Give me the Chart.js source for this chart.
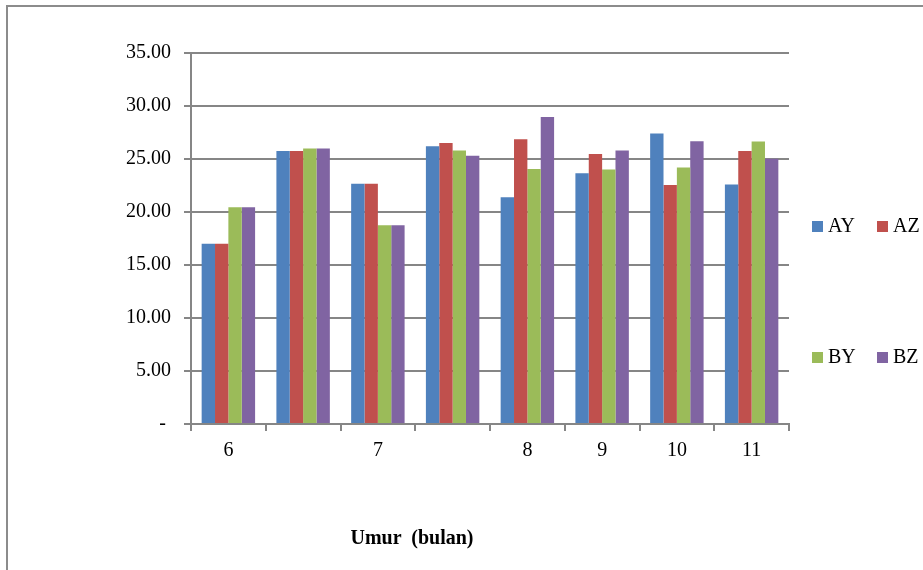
<!DOCTYPE html>
<html lang="id">
<head>
<meta charset="UTF-8">
<title>Umur (bulan)</title>
<script src="https://cdn.jsdelivr.net/npm/chart.js"></script>
<style>
  html, body { margin: 0; padding: 0; background: #fff; overflow: hidden; }
  #frame { position: absolute; left: 6px; top: 5px; width: 2000px; height: 2000px; border: 2px solid #8c8c8c; }
  #wrap { position: absolute; left: 0; top: 0; width: 923px; height: 570px; }
  #xtitle { position: absolute; left: 0; width: 824px; top: 526px; text-align: center;
            font: bold 20px "Liberation Serif", "Times New Roman", serif; color: #000; white-space: pre; }
</style>
</head>
<body>
<div id="frame"></div>
<div id="wrap"><canvas id="chart" width="923" height="570"></canvas></div>
<div id="xtitle">Umur  (bulan)</div>
<script>
// data
const categories = ['6', '', '7', '', '8', '9', '10', '11'];
const seriesNames = ['AY', 'AZ', 'BY', 'BZ'];
const AY = [17.0, 25.75, 22.67, 26.2, 21.4, 23.65, 27.4, 22.6];
const AZ = [17.0, 25.75, 22.67, 26.5, 26.86, 25.47, 22.55, 25.75];
const BY = [20.44, 26.0, 18.74, 25.8, 24.06, 24.0, 24.2, 26.64];
const BZ = [20.44, 26.0, 18.74, 25.3, 28.96, 25.8, 26.67, 25.03];
const colors = ['#4F81BD', '#C0504D', '#9BBB59', '#8064A2'];

const serif = '"Liberation Serif", "Times New Roman", serif';
const gridColor = '#868686';

// legend laid out in two rows at the right, like the original
const sideLegend = {
  id: 'sideLegend',
  afterDraw(chart) {
    const ctx = chart.ctx;
    const spots = [[812, 221], [877, 221], [812, 352], [877, 352]];
    ctx.save();
    ctx.font = '20px ' + serif;
    ctx.textBaseline = 'middle';
    chart.data.datasets.forEach((ds, i) => {
      const [x, y] = spots[i];
      ctx.fillStyle = ds.backgroundColor;
      ctx.fillRect(x, y, 11, 11);
      ctx.fillStyle = '#000';
      ctx.fillText(ds.label, x + 16, y + 6);
    });
    ctx.restore();
  }
};

const datasets = [AY, AZ, BY, BZ].map((vals, i) => ({
  label: seriesNames[i],
  data: vals,
  backgroundColor: colors[i],
  borderWidth: 0,
  barPercentage: 1.0,
  categoryPercentage: 0.715
}));

new Chart(document.getElementById('chart'), {
  type: 'bar',
  data: { labels: categories, datasets: datasets },
  plugins: [sideLegend],
  options: {
    responsive: false,
    animation: false,
    layout: { padding: { left: 0, top: 53, right: 134, bottom: 0 } },
    plugins: { legend: { display: false }, tooltip: { enabled: false } },
    scales: {
      x: {
        offset: true,
        grid: { offset: true, drawOnChartArea: false, color: gridColor, lineWidth: 2, tickLength: 7 },
        border: { color: gridColor, width: 2 },
        ticks: { color: '#000', font: { family: serif, size: 20 }, padding: 8, maxRotation: 0, autoSkip: false },
        afterFit(scale) { scale.height = 146; }
      },
      y: {
        min: 0,
        max: 35,
        grid: { color: gridColor, lineWidth: 2, tickLength: 7 },
        border: { color: gridColor, width: 2 },
        ticks: {
          stepSize: 5,
          color: '#000',
          padding: 13,
          font: { family: serif, size: 20 },
          callback: v => v === 0 ? '- ' : v.toFixed(2)
        },
        afterFit(scale) { scale.width = 191; }
      }
    }
  }
});
</script>
</body>
</html>
